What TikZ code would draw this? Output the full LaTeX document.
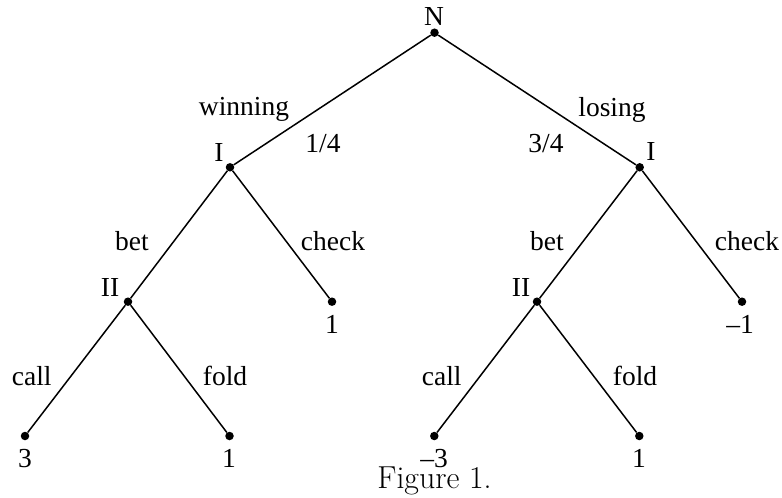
\documentclass[tikz,border=0pt]{standalone}
\usepackage{fontspec}
\newfontfamily\tms{Liberation Serif}
\usepackage{tikz}

\begin{document}
\begin{tikzpicture}[
   x=1pt,y=-1pt,
   every node/.style={font=\tms\fontsize{27.5}{30}\selectfont},
   dot/.style={circle,fill,inner sep=0pt,minimum size=8.5pt},
   lbl/.style={anchor=base,inner sep=0pt},
   branch/.style={line width=1.5pt}]
\useasboundingbox (0,0) rectangle (782,498);
% vertices
\node[dot] (N)   at (434.5,32.7) {};
\node[dot] (IW)  at (230,167.3) {};
\node[dot] (IL)  at (639.7,167.3) {};
\node[dot] (IIW) at (128,301.7) {};
\node[dot] (cW)  at (332,301.7) {};
\node[dot] (IIL) at (537,301.7) {};
\node[dot] (cL)  at (742,301.7) {};
\node[dot] (callW) at (25,436) {};
\node[dot] (foldW) at (229.5,436) {};
\node[dot] (callL) at (434.3,436) {};
\node[dot] (foldL) at (639.3,436) {};
% branches
\draw[branch] (N) -- (IW);
\draw[branch] (N) -- (IL);
\draw[branch] (IW) -- (IIW);
\draw[branch] (IW) -- (cW);
\draw[branch] (IL) -- (IIL);
\draw[branch] (IL) -- (cL);
\draw[branch] (IIW) -- (callW);
\draw[branch] (IIW) -- (foldW);
\draw[branch] (IIL) -- (callL);
\draw[branch] (IIL) -- (foldL);
% players
\node[lbl] (tN)   at (434,25) {N};
\node[lbl] (tIW)  at (219,161) {I};
\node[lbl] (tIL)  at (651,160.7) {I};
\node[lbl] (tIIW) at (110,296) {II};
\node[lbl] (tIIL) at (521,296) {II};
% moves
\node[lbl] (win)  at (244,115) {winning};
\node[lbl] (pW)   at (323,152.5) {1/4};
\node[lbl] (lose) at (612,116) {losing};
\node[lbl] (pL)   at (546,152.5) {3/4};
\node[lbl] (betW) at (132,250) {bet};
\node[lbl] (chkW) at (333,250) {check};
\node[lbl] (betL) at (547,250) {bet};
\node[lbl] (chkL) at (747,250) {check};
\node[lbl] (clW)  at (31.7,385) {call};
\node[lbl] (fdW)  at (225,385) {fold};
\node[lbl] (clL)  at (441.7,385) {call};
\node[lbl] (fdL)  at (635,385) {fold};
% payoffs
\node[lbl] (vcW)  at (332,333) {1};
\node[lbl] (vcL)  at (740,333) {\textendash1};
\node[lbl] (vclW) at (25,467) {3};
\node[lbl] (vfdW) at (229,467) {1};
\node[lbl] (vclL) at (434,467) {\textendash3};
\node[lbl] (vfdL) at (639,467) {1};
\node[lbl,font=\rmfamily\fontsize{31.8}{34}\selectfont] (cap) at (434.5,488) {Figure 1.};
\end{tikzpicture}
\end{document}
